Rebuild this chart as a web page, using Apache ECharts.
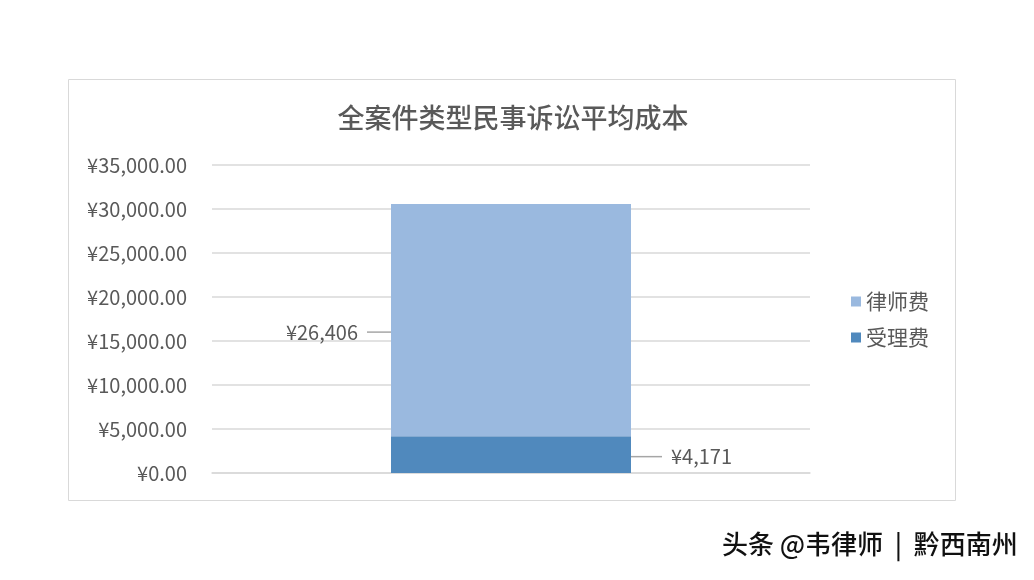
<!DOCTYPE html>
<html><head><meta charset="utf-8">
<script src="https://cdn.jsdelivr.net/npm/echarts@6/dist/echarts.min.js"></script>
<style>html,body{margin:0;padding:0;background:#fff}#c{width:1034px;height:580px}</style>
</head><body><div id="c"></div>
<script>
var categories = ['全案件类型民事诉讼'];
var seriesNames = ['律师费', '受理费'];
var lawyerFee = [26406];
var filingFee = [4171];
var titleText = '全案件类型民事诉讼平均成本';
var watermark = '头条 @韦律师  |  黔西南州';

var font = '"Noto Sans CJK SC", "Noto Sans", sans-serif';
function money(v){ return '¥' + Number(v).toLocaleString('en-US'); }
var chart = echarts.init(document.getElementById('c'));
chart.setOption({
  animation: false,
  textStyle: {fontFamily: font},
  title: {text: titleText, left: 508, top: 99, textAlign: 'center',
    textStyle: {fontSize: 27, color: '#595959', fontWeight: 500, fontFamily: font}},
  graphic: [
    {type: 'rect', shape: {x: 68.5, y: 79.5, width: 887, height: 421}, style: {fill: 'none', stroke: '#d9d9d9', lineWidth: 1}, z: -1},
    {type: 'text', left: 722, top: 531, style: {text: watermark, fontSize: 26, fontWeight: 500, fill: '#111', fontFamily: font}}
  ],
  legend: {orient: 'vertical', left: 846, top: 286, itemWidth: 10, itemHeight: 10, itemGap: 15,
    icon: 'rect', data: seriesNames,
    textStyle: {fontSize: 21, color: '#595959', fontFamily: font}},
  grid: {left: 212, right: 224, top: 165, bottom: 107, containLabel: false},
  xAxis: {type: 'category', data: categories, axisLabel: {show: false}, axisTick: {show: false},
    axisLine: {lineStyle: {color: '#d9d9d9', width: 1.5}}},
  yAxis: {type: 'value', min: 0, max: 35000, interval: 5000,
    axisLabel: {fontSize: 20, color: '#595959', margin: 25, fontFamily: font,
      formatter: function(v){ return '¥' + v.toLocaleString('en-US', {minimumFractionDigits: 2, maximumFractionDigits: 2}); }},
    splitLine: {lineStyle: {color: '#d9d9d9', width: 1.5}}, axisLine: {show: false}, axisTick: {show: false}},
  series: [
    {name: seriesNames[1], type: 'bar', stack: 'total', data: filingFee, barWidth: 240,
      itemStyle: {color: '#5089bd'},
      label: {show: true, position: 'right', distance: 0, fontSize: 20, color: '#595959', fontFamily: font,
        formatter: function(p){ return '  ' + money(p.value); }},
      labelLayout: {dx: 31, dy: 2},
      labelLine: {show: true, lineStyle: {color: '#a6a6a6', width: 1.5}}},
    {name: seriesNames[0], type: 'bar', stack: 'total', data: lawyerFee, barWidth: 240,
      itemStyle: {color: '#9ab9df'},
      label: {show: true, position: 'left', distance: 0, fontSize: 20, color: '#595959', fontFamily: font,
        formatter: function(p){ return money(p.value) + '  '; }},
      labelLayout: {dx: -24, dy: 12},
      labelLine: {show: true, lineStyle: {color: '#a6a6a6', width: 1.5}}}
  ]
});
</script></body></html>
